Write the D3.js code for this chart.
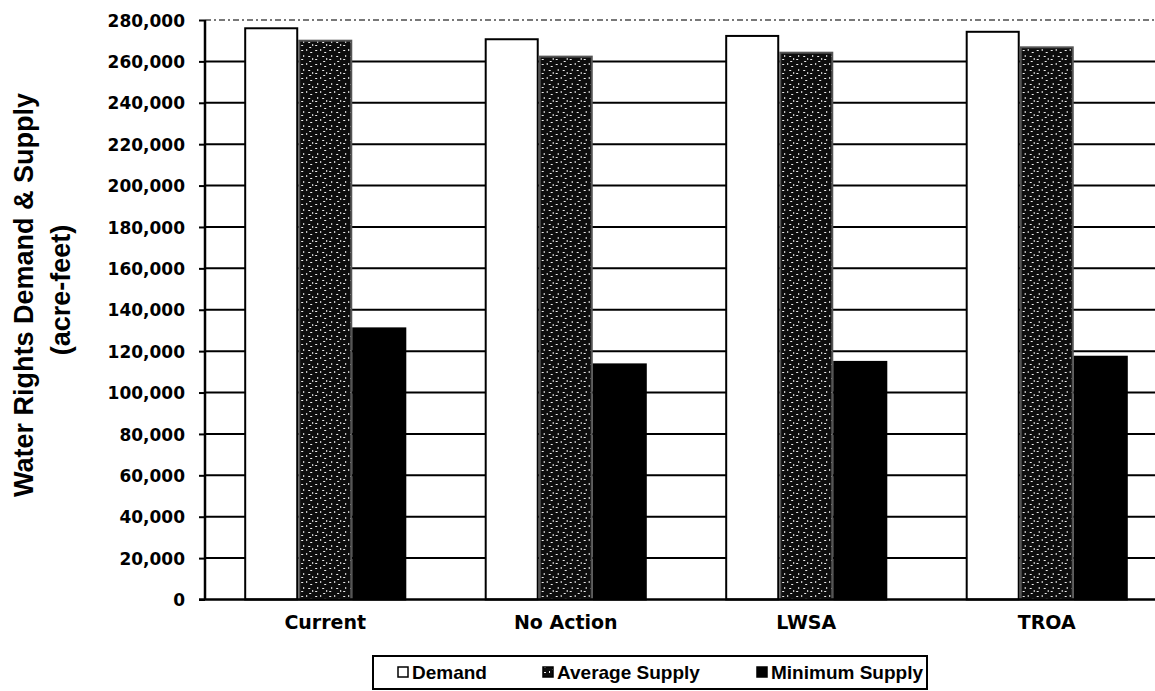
<!DOCTYPE html>
<html>
<head>
<meta charset="utf-8">
<script src="https://cdn.jsdelivr.net/npm/d3@7"></script>
<style>
  body { margin: 0; background: #fff; }
  svg { display: block; }
  .tick-label { font-family: "DejaVu Sans", sans-serif; font-weight: bold; font-size: 17px; fill: #000; }
  .cat-label { font-family: "DejaVu Sans", sans-serif; font-weight: bold; font-size: 19px; fill: #000; }
  .legend-label { font-family: "Liberation Sans", Arial, sans-serif; font-weight: bold; font-size: 19px; fill: #000; }
  .axis-title { font-family: "Liberation Sans", Arial, sans-serif; font-weight: bold; font-size: 27px; fill: #000; }
</style>
</head>
<body>
<svg width="1155" height="691"></svg>
<script>
// Data
var categories = ["Current", "No Action", "LWSA", "TROA"];
var seriesNames = ["Demand", "Average Supply", "Minimum Supply"];
var demand = [276000, 270700, 272300, 274300];
var averageSupply = [270000, 262300, 264200, 266800];
var minimumSupply = [131000, 113600, 114800, 117300];
var yTicks = [0, 20000, 40000, 60000, 80000, 100000, 120000, 140000,
              160000, 180000, 200000, 220000, 240000, 260000, 280000];

var seriesValues = [demand, averageSupply, minimumSupply];

var svg = d3.select("svg"),
    margin = {top: 20, left: 205},
    width = 962,
    height = 579.5,
    g = svg.append("g")
      .attr("transform", "translate(" + margin.left + "," + margin.top + ")");

// stipple pattern for the average supply bars
var defs = svg.append("defs");
var pat = defs.append("pattern")
    .attr("id", "stipple")
    .attr("patternUnits", "userSpaceOnUse")
    .attr("width", 14).attr("height", 14);
pat.append("rect").attr("width", 14).attr("height", 14).attr("fill", "#0d0d0d");
var specks = [[1,2,2,1],[6,1,1,2],[10,4,2,1],[3,7,1,2],[8,8,2,1],[12,10,1,2],[1,11,2,1],[9,13,2,1]];
specks.forEach(function(s) {
  pat.append("rect").attr("x", s[0]).attr("y", s[1]).attr("width", s[2]).attr("height", s[3]).attr("fill", "#eee");
});

var fills = ["#fff", "url(#stipple)", "#000"];

// scales
var x0 = d3.scaleBand().domain(categories).range([0, width])
    .paddingInner(0.326).paddingOuter(0.163);
var x1 = d3.scaleBand().domain(seriesNames).range([0, x0.bandwidth()]);
var y = d3.scaleLinear().domain([0, 280000]).range([height, 0]);

// gridlines
g.append("g").selectAll("line")
  .data(yTicks.filter(function(d) { return d > 0; }))
  .enter().append("line")
    .attr("x1", 0).attr("x2", width + 10)
    .attr("y1", function(d) { return y(d); })
    .attr("y2", function(d) { return y(d); })
    .attr("stroke", "#000")
    .attr("stroke-width", function(d) { return d === 280000 ? 1.5 : 2; })
    .attr("stroke-dasharray", function(d) { return d === 280000 ? "6,3,2,3" : null; })
    .attr("opacity", function(d) { return d === 280000 ? 0.7 : 1; });

// bars
var groups = g.selectAll(".group")
  .data(categories)
  .enter().append("g")
    .attr("class", "group")
    .attr("transform", function(d) { return "translate(" + x0(d) + ",0)"; });

groups.selectAll("rect")
  .data(function(d, i) {
    return seriesNames.map(function(s, j) { return {series: s, j: j, value: seriesValues[j][i]}; });
  })
  .enter().append("rect")
    .attr("x", function(d) { return x1(d.series) + 1; })
    .attr("y", function(d) { return y(d.value); })
    .attr("width", x1.bandwidth() - 2)
    .attr("height", function(d) { return height - y(d.value); })
    .attr("fill", function(d) { return fills[d.j]; })
    .attr("stroke", function(d) { return d.j === 1 ? "#555" : "#000"; })
    .attr("stroke-width", 2);

// y axis
var yAxis = g.append("g")
  .call(d3.axisLeft(y).tickValues(yTicks).tickSize(6).tickPadding(14).tickFormat(d3.format(",")));
yAxis.select(".domain").attr("stroke-width", 2.5).attr("d", "M0,0V" + height);
yAxis.selectAll(".tick line").attr("stroke-width", 2);
yAxis.selectAll("text").attr("class", "tick-label").attr("font-size", null).attr("font-family", null).attr("dy", "0.36em");

// baseline
g.append("line")
  .attr("x1", -6).attr("x2", width + 10)
  .attr("y1", height).attr("y2", height)
  .attr("stroke", "#000").attr("stroke-width", 2.5);

// category labels
g.selectAll(".cat-label")
  .data(categories)
  .enter().append("text")
    .attr("class", "cat-label")
    .attr("text-anchor", "middle")
    .attr("x", function(d) { return x0(d) + x0.bandwidth() / 2; })
    .attr("y", height + 29)
    .text(function(d) { return d; });

// y axis title
svg.append("text")
  .attr("class", "axis-title")
  .attr("transform", "translate(33,295) rotate(-90)")
  .attr("text-anchor", "middle")
  .text("Water Rights Demand & Supply");
svg.append("text")
  .attr("class", "axis-title")
  .attr("transform", "translate(70,290) rotate(-90)")
  .attr("text-anchor", "middle")
  .text("(acre-feet)");

// legend
var legend = svg.append("g").attr("transform", "translate(373,656)");
legend.append("rect")
  .attr("width", 554).attr("height", 33)
  .attr("fill", "#fff").attr("stroke", "#000").attr("stroke-width", 2);

var legendX = [25, 170, 384];
var item = legend.selectAll(".item")
  .data(seriesNames)
  .enter().append("g")
    .attr("class", "item")
    .attr("transform", function(d, i) { return "translate(" + legendX[i] + ",0)"; });
item.append("rect")
  .attr("x", 0).attr("y", 11).attr("width", 10).attr("height", 10)
  .attr("fill", function(d, i) { return fills[i]; })
  .attr("stroke", "#000").attr("stroke-width", 1.5);
item.append("text")
  .attr("class", "legend-label")
  .attr("x", 14).attr("y", 23)
  .text(function(d) { return d; });
</script>
</body>
</html>
